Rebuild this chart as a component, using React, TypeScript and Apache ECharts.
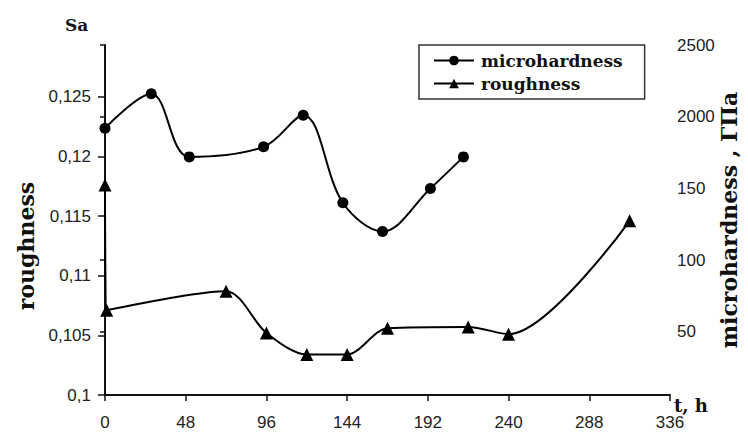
import React, { useEffect, useRef } from "react";
import * as echarts from "echarts";

// time, h
const hoursMicro = [0, 28, 51, 96, 120, 144, 168, 197, 217];
const microhardness = [192, 216, 172, 179, 201, 140, 120, 150, 172];

const hoursRough = [0, 1, 72, 96, 120, 144, 168, 216, 240, 312];
const roughness = [0.1176, 0.1071, 0.1087, 0.1052, 0.1034, 0.1034, 0.1056, 0.1057, 0.1051, 0.1146];

const xTicks = [0, 48, 96, 144, 192, 240, 288, 336];
const leftTickValues = [0.1, 0.105, 0.11, 0.115, 0.12, 0.125];
const rightTickValues = [50, 100, 150, 200, 250];
const rightTickLabels = ["50", "100", "150", "2000", "2500"];

const tickFont = { fontFamily: "Liberation Sans", fontSize: 17, color: "#222" };
const nameFont = { fontFamily: "DejaVu Serif", fontWeight: "bold" as const, fontSize: 17, color: "#111" };

export default function App() {
  const ref = useRef<HTMLDivElement>(null);
  useEffect(() => {
    if (!ref.current) return;
    const chart = echarts.init(ref.current, null, { renderer: "svg" });
    const axisLine = { show: true, lineStyle: { color: "#111", width: 2 } };
    const option: any = {
      animation: false,
      backgroundColor: "#fff",
      grid: [
        { left: 105, right: 78, top: 59, bottom: 42 },
        { left: 105, right: 78, top: 45, bottom: 42 },
      ],
      legend: {
        data: ["microhardness", "roughness"],
        orient: "vertical",
        left: 419,
        top: 45,
        padding: [7, 22, 7, 14],
        itemGap: 6,
        itemWidth: 40,
        itemHeight: 12,
        borderColor: "#333",
        borderWidth: 1.5,
        textStyle: { ...nameFont, fontSize: 17, padding: [0, 0, 0, 2] },
      },
      graphic: [
        {
          type: "text",
          left: 65,
          top: 16,
          style: { text: "Sa", font: "bold 17px 'DejaVu Serif'", fill: "#111" },
        },
      ],
      xAxis: [
        {
          gridIndex: 0,
          type: "value",
          min: xTicks[0],
          max: xTicks[xTicks.length - 1],
          interval: 48,
          axisLine,
          axisTick: { show: true, length: 6, lineStyle: { color: "#111", width: 1.5 } },
          axisLabel: { ...tickFont, margin: 19 },
          splitLine: { show: false },
          name: "t, h",
          nameLocation: "end",
          nameGap: 4,
          nameMoveOverlap: false,
          nameTextStyle: { ...nameFont, fontSize: 18, verticalAlign: "top", padding: [1, 0, 0, 0] },
        },
        { gridIndex: 1, type: "value", min: 0, max: 336, show: false },
      ],
      yAxis: [
        {
          gridIndex: 0,
          type: "value",
          position: "left",
          min: 0.1,
          max: 0.12816,
          axisLine,
          axisTick: { show: true, length: 7, customValues: leftTickValues, lineStyle: { color: "#111", width: 1.5 } },
          axisLabel: {
            ...tickFont,
            margin: 14,
            customValues: leftTickValues,
            formatter: (v: number) => String(v).replace(".", ","),
          },
          splitLine: { show: false },
          name: "roughness",
          nameLocation: "middle",
          nameRotate: 90,
          nameGap: 68,
          nameMoveOverlap: false,
          nameTextStyle: { ...nameFont, fontSize: 22, padding: [0, 38, 0, 0] },
        },
        {
          gridIndex: 1,
          type: "value",
          position: "right",
          min: 6,
          max: 250,
          axisLine,
          axisTick: { show: true, inside: true, length: 5, customValues: rightTickValues, lineStyle: { color: "#111", width: 1.5 } },
          axisLabel: {
            ...tickFont,
            margin: 17,
            align: "left",
            customValues: rightTickValues,
            formatter: (v: number) => rightTickLabels[rightTickValues.indexOf(v)] ?? "",
          },
          splitLine: { show: false },
          name: "microhardness , ГПа",
          nameLocation: "middle",
          nameRotate: 90,
          nameGap: 58,
          nameMoveOverlap: false,
          nameTextStyle: { ...nameFont, fontSize: 22 },
        },
      ],
      series: [
        {
          name: "microhardness",
          type: "line",
          xAxisIndex: 1,
          yAxisIndex: 1,
          data: hoursMicro.map((t, i) => [t, microhardness[i]]),
          smooth: 0.35,
          symbol: "circle",
          symbolSize: 11,
          itemStyle: { color: "#000" },
          lineStyle: { color: "#000", width: 2 },
          clip: false,
        },
        {
          name: "roughness",
          type: "line",
          xAxisIndex: 0,
          yAxisIndex: 0,
          data: hoursRough.map((t, i) => [t, roughness[i]]),
          smooth: 0.3,
          symbol: "triangle",
          symbolSize: 13,
          itemStyle: { color: "#000" },
          lineStyle: { color: "#000", width: 2 },
          clip: false,
        },
      ],
    };
    chart.setOption(option);
    return () => chart.dispose();
  }, []);
  return (
    <div
      ref={ref}
      style={{ position: "fixed", left: 0, top: 0, width: 748, height: 437, background: "#fff" }}
    />
  );
}
